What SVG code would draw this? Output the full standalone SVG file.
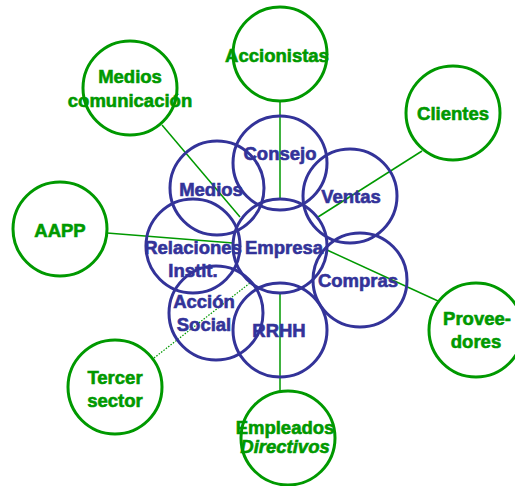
<svg xmlns="http://www.w3.org/2000/svg" width="515" height="486" viewBox="0 0 515 486">
<style>
.g{fill:none;stroke:#009900;stroke-width:3}
.b{fill:none;stroke:#333399;stroke-width:3}
.l{stroke:#009900;stroke-width:1.5;fill:none}
.d{stroke:#009900;stroke-width:1.2;stroke-dasharray:1.5 1.5;fill:none}
text{font-family:"Liberation Sans",Arial,sans-serif;font-weight:bold;font-size:18.5px;text-anchor:middle;stroke-width:0.6}
.tg{fill:#009900;stroke:#009900}
.tb{fill:#333399;stroke:#333399}
</style>
<rect width="515" height="486" fill="#ffffff"/>
<g id="connectors">
<line class="l" x1="280" y1="101" x2="280" y2="199"/>
<line class="l" x1="162" y1="125" x2="240" y2="217"/>
<line class="l" x1="422" y1="151" x2="318" y2="217"/>
<line class="l" x1="107" y1="233" x2="233" y2="243"/>
<line class="l" x1="327" y1="250" x2="438" y2="301"/>
<line class="l" x1="280" y1="292" x2="280" y2="391"/>
<line class="d" x1="154" y1="358" x2="250" y2="283"/>
</g>
<g id="accionistas"><circle class="g" cx="280" cy="54" r="47"/><text class="tg" x="277" y="62">Accionistas</text></g>
<g id="medios-comunicacion"><circle class="g" cx="130" cy="88" r="47"/><text class="tg" x="130" y="83">Medios</text><text class="tg" x="130" y="107">comunicación</text></g>
<g id="clientes"><circle class="g" cx="453" cy="113" r="47"/><text class="tg" x="453" y="120">Clientes</text></g>
<g id="aapp"><circle class="g" cx="60" cy="229" r="47"/><text class="tg" x="60" y="237">AAPP</text></g>
<g id="proveedores"><circle class="g" cx="476" cy="330" r="47"/><text class="tg" x="477" y="325">Provee-</text><text class="tg" x="476" y="348">dores</text></g>
<g id="tercer-sector"><circle class="g" cx="115" cy="387" r="47"/><text class="tg" x="115" y="384">Tercer</text><text class="tg" x="115" y="407">sector</text></g>
<g id="empleados"><circle class="g" cx="288" cy="438" r="47"/><text class="tg" x="285" y="434">Empleados</text><text class="tg" x="285" y="453" font-style="italic">Directivos</text></g>
<g id="consejo"><circle class="b" cx="280" cy="163" r="47"/><text class="tb" x="280" y="160">Consejo</text></g>
<g id="medios"><circle class="b" cx="217" cy="188" r="47"/><text class="tb" x="211" y="196">Medios</text></g>
<g id="ventas"><circle class="b" cx="350" cy="196" r="47"/><text class="tb" x="351" y="203">Ventas</text></g>
<g id="relaciones"><circle class="b" cx="193" cy="246" r="47"/><text class="tb" x="193" y="254">Relaciones</text><text class="tb" x="193" y="277">Instit.</text></g>
<g id="empresa"><circle class="b" cx="280" cy="246" r="47"/><text class="tb" x="284" y="254">Empresa</text></g>
<g id="compras"><circle class="b" cx="360" cy="280" r="47"/><text class="tb" x="358" y="287">Compras</text></g>
<g id="accion-social"><circle class="b" cx="216" cy="313" r="47"/><text class="tb" x="204" y="308">Acción</text><text class="tb" x="204" y="331">Social</text></g>
<g id="rrhh"><circle class="b" cx="280" cy="330" r="47"/><text class="tb" x="279" y="337">RRHH</text></g>
</svg>
